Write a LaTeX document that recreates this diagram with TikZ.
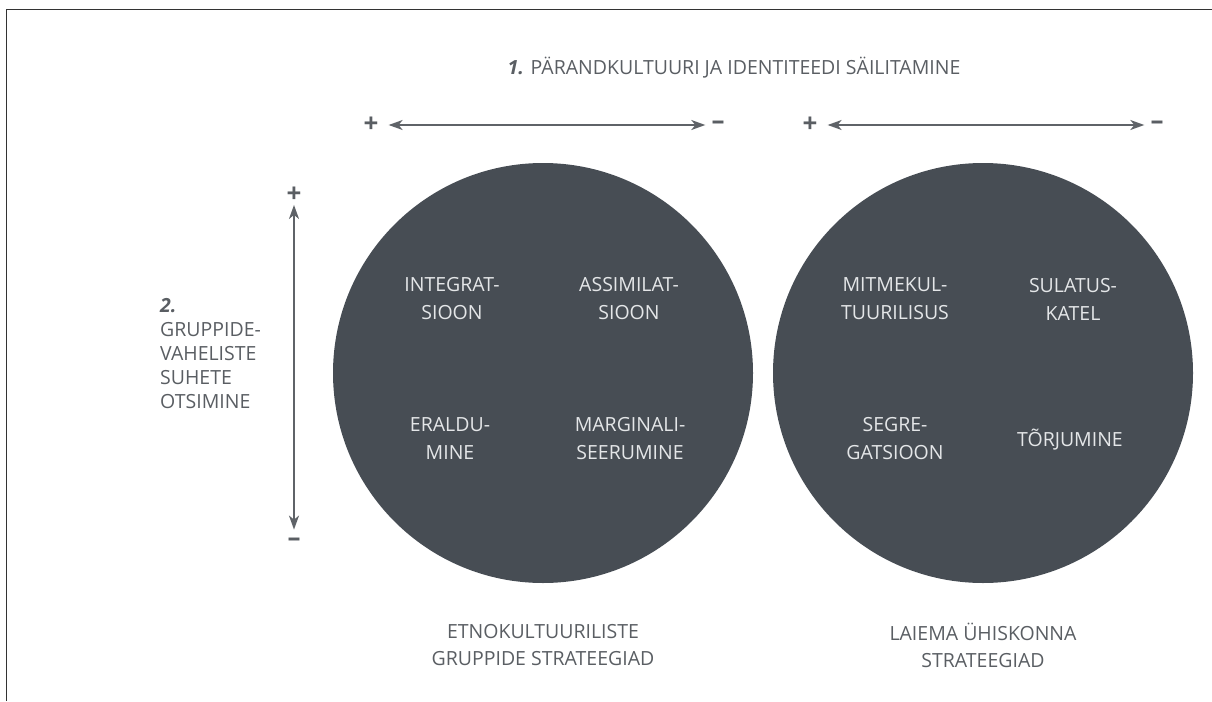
\documentclass[tikz,border=0pt]{standalone}
\usepackage{fontspec}
\setmainfont{Open Sans}
\usetikzlibrary{arrows.meta}
\definecolor{disc}{HTML}{474D54}
\definecolor{ink}{HTML}{5A5E63}
\definecolor{arrowc}{HTML}{5F6368}
\definecolor{intext}{HTML}{E4E6E8}
\tikzset{
  lbl/.style={font=\fontsize{19.5}{27}\selectfont, text=ink, align=center, inner sep=0pt},
  sidelbl/.style={font=\fontsize{19.5}{24}\selectfont, text=ink, align=left, inner sep=0pt},
  inlbl/.style={font=\fontsize{19.5}{28}\selectfont, text=intext, align=center, inner sep=0pt},
  sign/.style={font=\fontsize{26}{26}\selectfont\bfseries, text=ink, inner sep=0pt},
  arr/.style={draw=arrowc, line width=1.6pt, {Stealth[length=14pt,width=10pt,inset=4pt]}-{Stealth[length=14pt,width=10pt,inset=4pt]}},
  disk/.style={circle, fill=disc, minimum size=420pt, inner sep=0pt},
}
\begin{document}
\begin{tikzpicture}[x=1pt,y=-1pt]
\useasboundingbox (0,0) rectangle (1212,701);
\draw[line width=1.5pt, color=black!80] (6.5,701) -- (6.5,9.5) -- (1212,9.5);
% title
\node[lbl] (title) at (734,68) {\textbf{\textit{1.}} PÄRANDKULTUURI JA IDENTITEEDI SÄILITAMINE};
% horizontal axes
\node[sign] (p1) at (371,125) {+};
\node[sign] (m1) at (718,125) {–};
\draw[arr, shorten <=10pt, shorten >=6pt] (p1) -- (m1);
\node[sign] (p2) at (810,125) {+};
\node[sign] (m2) at (1157,125) {–};
\draw[arr, shorten <=10pt, shorten >=6pt] (p2) -- (m2);
% vertical axis
\node[sign] (pv) at (294,195) {+};
\node[sign] (mv) at (294,542) {–};
\draw[arr, shorten <=2pt, shorten >=8pt] (pv) -- (mv);
% left text
\node[sidelbl, anchor=north west] (side) at (160,298) {\textbf{\textit{2.}}\\GRUPPIDE-\\VAHELISTE\\SUHETE\\OTSIMINE};
% circles
\node[disk] (c1) at (543,373) {};
\node[disk] (c2) at (983,373) {};
\node[inlbl] (integ) at (452,299) {INTEGRAT-\\SIOON};
\node[inlbl] (assim) at (629,299) {ASSIMILAT-\\SIOON};
\node[inlbl] (erald) at (450,439) {ERALDU-\\MINE};
\node[inlbl] (margi) at (630,439) {MARGINALI-\\SEERUMINE};
\node[inlbl] (mitme) at (895,299) {MITMEKUL-\\TUURILISUS};
\node[inlbl] (sulat) at (1073,299) {SULATUS-\\KATEL};
\node[inlbl] (segre) at (895,439) {SEGRE-\\GATSIOON};
\node[inlbl] (torju) at (1070,440) {TÕRJUMINE};
% bottom labels
\node[lbl] (b1) at (543,645) {ETNOKULTUURILISTE\\GRUPPIDE STRATEEGIAD};
\node[lbl] (b2) at (983,645) {LAIEMA ÜHISKONNA\\STRATEEGIAD};
\end{tikzpicture}
\end{document}
